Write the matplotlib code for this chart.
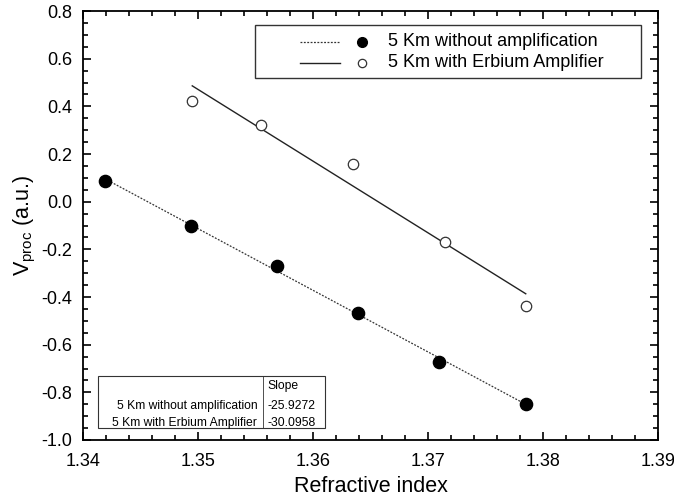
import numpy as np
import matplotlib
matplotlib.use("Agg")
import matplotlib.pyplot as plt
from matplotlib.patches import Rectangle
from matplotlib.lines import Line2D

plt.rcParams['font.family'] = ['Liberation Sans', 'DejaVu Sans']
plt.rcParams['mathtext.fontset'] = 'custom'
plt.rcParams['mathtext.rm'] = 'Liberation Sans'
plt.rcParams['mathtext.it'] = 'Liberation Sans'

# Data
x_noamp = [1.3419, 1.3494, 1.3569, 1.3639, 1.3710, 1.3785]
y_noamp = [0.087, -0.102, -0.270, -0.466, -0.672, -0.850]
x_amp = [1.3495, 1.3555, 1.3635, 1.3715, 1.3785]
y_amp = [0.424, 0.322, 0.157, -0.171, -0.438]
series_names = ["5 Km without amplification", "5 Km with Erbium Amplifier"]
slopes = ["-25.9272", "-30.0958"]

fig = plt.figure(figsize=(6.74, 4.97), dpi=100)
ax = fig.add_axes([83/674, 1-440/497, 575/674, 429/497])

# fits
p1 = np.polyfit(x_noamp, y_noamp, 1)
p2 = np.polyfit(x_amp, y_amp, 1)
xf1 = np.array([min(x_noamp), max(x_noamp)])
xf2 = np.array([min(x_amp), max(x_amp)])
ax.plot(xf1, np.polyval(p1, xf1), color='#333333', lw=0.9, ls=(0, (1.5, 1.2)))
ax.plot(xf2, np.polyval(p2, xf2), color='#222222', lw=1.0, ls='-')
ax.plot(x_noamp, y_noamp, 'o', color='black', ms=8.8, mec='black')
ax.plot(x_amp, y_amp, 'o', mfc='white', mec='#333333', ms=7.5, mew=0.9)

ax.set_xlim(1.34, 1.39)
ax.set_ylim(-1.0, 0.8)
ax.set_xticks(np.arange(1.34, 1.3901, 0.01))
ax.set_xticklabels(["1.34", "1.35", "1.36", "1.37", "1.38", "1.39"])
ax.set_yticks(np.arange(-1.0, 0.801, 0.2))
ax.set_yticklabels(["-1.0", "-0.8", "-0.6", "-0.4", "-0.2", "0.0", "0.2", "0.4", "0.6", "0.8"])
ax.set_xticks(np.arange(1.34, 1.3901, 0.002), minor=True)
ax.set_yticks(np.arange(-1.0, 0.801, 0.05), minor=True)
ax.tick_params(which='both', direction='in', top=True, right=True, labelsize=13, width=1.2)
ax.tick_params(which='major', length=6)
ax.tick_params(which='minor', length=3.5)
ax.tick_params(axis='x', which='major', pad=9)
ax.tick_params(axis='y', which='major', pad=8)
for s in ax.spines.values():
    s.set_linewidth(1.3)
ax.set_xlabel("Refractive index", fontsize=15.5, labelpad=5)
ax.set_ylabel(r"V$_{\mathrm{proc}}$ (a.u.)", fontsize=15.5, labelpad=2)

# legend (manual)
ax.add_patch(Rectangle((0.299, 0.844), 0.671, 0.123, transform=ax.transAxes,
                       fill=False, lw=1.0, ec='#333333'))
rows = [0.928, 0.879]
ax.add_line(Line2D([0.377, 0.447], [rows[0]]*2, transform=ax.transAxes, color='#333333', lw=0.9, ls=(0, (1.5, 1.2))))
ax.add_line(Line2D([0.377, 0.447], [rows[1]]*2, transform=ax.transAxes, color='#222222', lw=1.0))
ax.plot([0.485], [rows[0]], 'o', color='black', ms=7, transform=ax.transAxes)
ax.plot([0.485], [rows[1]], 'o', mfc='white', mec='#333333', ms=6, mew=0.9, transform=ax.transAxes)
for r, name in zip(rows, series_names):
    ax.text(0.530, r, name, transform=ax.transAxes, fontsize=13, va='center', ha='left')

# table (manual)
tl, tr, tb, tt, tsep = 0.026, 0.421, 0.028, 0.149, 0.313
ax.add_patch(Rectangle((tl, tb), tr-tl, tt-tb, transform=ax.transAxes, fill=False, lw=0.8, ec='#333333'))
ax.add_line(Line2D([tsep, tsep], [tb, tt], transform=ax.transAxes, color='#333333', lw=0.6))
trow = [0.125, 0.080, 0.040]
ax.text(tsep + 0.008, trow[0], "Slope", transform=ax.transAxes, fontsize=8.7, va='center', ha='left')
for r, name, sl in zip(trow[1:], series_names, slopes):
    ax.text(tsep - 0.010, r, name, transform=ax.transAxes, fontsize=8.7, va='center', ha='right')
    ax.text(tsep + 0.008, r, sl, transform=ax.transAxes, fontsize=8.7, va='center', ha='left')

fig.savefig("out.png", dpi=100)
